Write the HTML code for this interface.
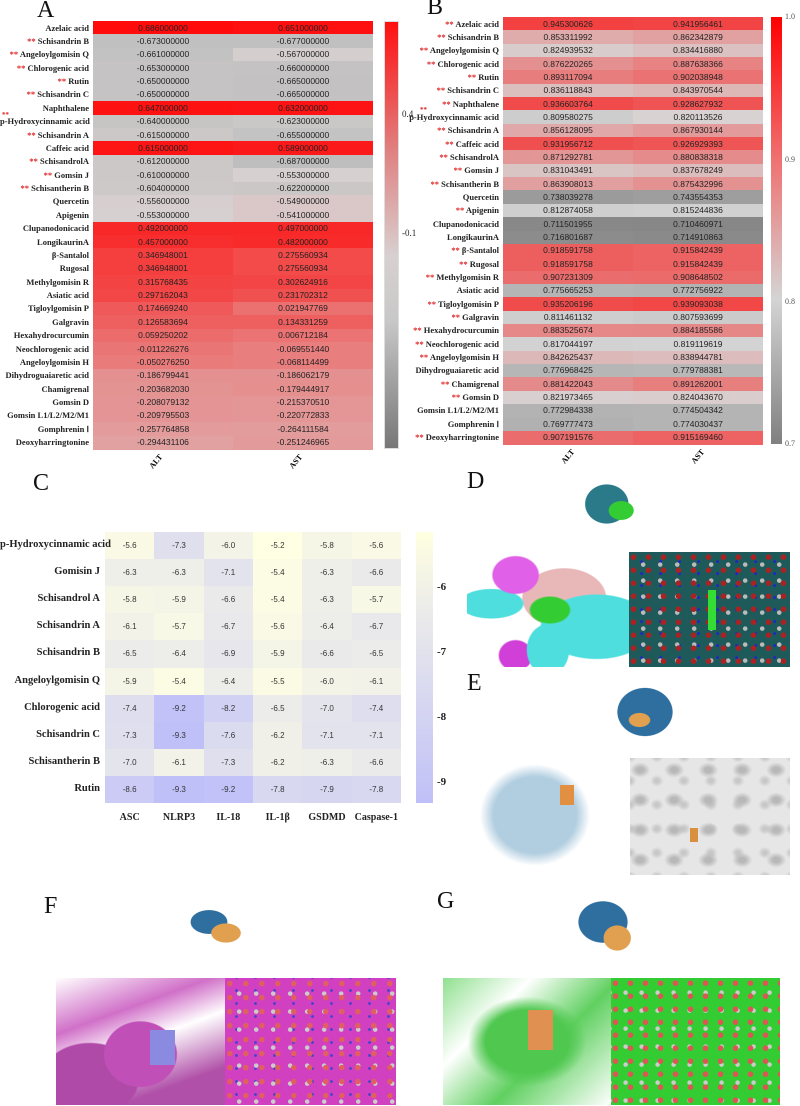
<!DOCTYPE html>
<html><head><meta charset="utf-8">
<style>
body{margin:0;background:#fff;width:800px;height:1106px;position:relative;overflow:hidden;font-family:"Liberation Sans",sans-serif}
.a{position:absolute}
.lab{position:absolute;font-family:"Liberation Serif",serif;font-weight:bold;font-size:8.5px;text-align:right;white-space:nowrap;color:#222}
.val{position:absolute;font-size:8.5px;text-align:center;color:#222;white-space:nowrap}
.big{position:absolute;font-family:"Liberation Serif",serif;font-size:24px;color:#111}
.st{color:#e02020}
.rot{position:absolute;font-family:"Liberation Serif",serif;font-weight:bold;font-size:8px;transform:rotate(-50deg);transform-origin:center}
</style></head><body>
<div class="big" style="left:37px;top:-3px">A</div>
<div class="big" style="left:427px;top:-6px">B</div>
<div class="big" style="left:33px;top:470px">C</div>
<div class="big" style="left:467px;top:468px">D</div>
<div class="big" style="left:467px;top:670px">E</div>
<div class="big" style="left:44px;top:893px">F</div>
<div class="big" style="left:437px;top:888px">G</div>
<div id="root"></div>

<!-- D -->
<div class="a" style="left:467px;top:552px;width:162px;height:115px;background:radial-gradient(ellipse at 30% 20%,#e060e8 0 14%,transparent 15%),radial-gradient(ellipse at 80% 65%,#4fdede 0 30%,transparent 31%),radial-gradient(ellipse at 15% 45%,#4fdede 0 16%,transparent 17%),radial-gradient(ellipse at 50% 85%,#4fdede 0 18%,transparent 19%),radial-gradient(ellipse at 30% 90%,#d040d8 0 10%,transparent 11%),radial-gradient(ellipse at 60% 40%,#e8b8b8 0 30%,transparent 31%),#fff"></div>
<div class="a" style="left:520px;top:590px;width:60px;height:40px;background:radial-gradient(ellipse,#3c3 0 45%,transparent 50%)"></div>
<div class="a" style="left:629px;top:552px;width:161px;height:115px;background:radial-gradient(circle at 30% 40%,#a22 0 2.5px,transparent 3px) 0 0/15px 13px,radial-gradient(circle at 60% 60%,#bbb 0 2px,transparent 2.5px) 4px 3px/17px 16px,radial-gradient(circle at 40% 80%,#22c 0 1.2px,transparent 1.6px) 5px 0/19px 12px,#1f5a5a"></div>
<div class="a" style="left:708px;top:590px;width:8px;height:40px;background:#3d3"></div>
<div class="a" style="left:578px;top:478px;width:72px;height:65px;background:radial-gradient(ellipse at 60% 50%,#3c3 0 20%,transparent 21%),radial-gradient(ellipse at 40% 40%,#2a7a8a 0 35%,transparent 36%)"></div>
<!-- E -->
<div class="a" style="left:470px;top:755px;width:130px;height:120px;background:radial-gradient(ellipse at 50% 50%,#a8c8dc 0 45%,transparent 60%);opacity:.9"></div>
<div class="a" style="left:560px;top:785px;width:14px;height:20px;background:#e09040"></div>
<div class="a" style="left:630px;top:758px;width:160px;height:117px;background:radial-gradient(ellipse at 30% 40%,#b8b8b8 0 10%,transparent 30%) 0 0/34px 30px,radial-gradient(ellipse at 70% 70%,#c8c8c8 0 8%,transparent 25%) 8px 6px/27px 24px,#e6e6e6"></div>
<div class="a" style="left:690px;top:828px;width:8px;height:14px;background:#d89040"></div>
<div class="a" style="left:590px;top:680px;width:110px;height:80px;background:radial-gradient(ellipse at 45% 50%,#e0a050 0 12%,transparent 13%),radial-gradient(ellipse at 50% 40%,#2f6fa0 0 35%,transparent 36%)"></div>
<!-- F -->
<div class="a" style="left:56px;top:978px;width:169px;height:127px;background:radial-gradient(ellipse at 50% 60%,#c050b8 0 30%,transparent 31%),radial-gradient(ellipse at 20% 80%,#b04aa8 0 25%,transparent 26%),linear-gradient(160deg,#fff 0%,#d070c8 30%,#fff 50%,#b050a8 80%)"></div>
<div class="a" style="left:150px;top:1030px;width:25px;height:35px;background:#8a8ae0"></div>
<div class="a" style="left:225px;top:978px;width:171px;height:127px;background:radial-gradient(circle at 30% 40%,#e06060 0 2.5px,transparent 3px) 0 0/16px 14px,radial-gradient(circle at 60% 70%,#ccc 0 2px,transparent 2.5px) 4px 3px/17px 18px,radial-gradient(circle at 50% 50%,#44c 0 1.2px,transparent 1.6px) 2px 6px/19px 13px,#d040c0"></div>
<div class="a" style="left:175px;top:900px;width:85px;height:55px;background:radial-gradient(ellipse at 60% 60%,#e0a050 0 20%,transparent 21%),radial-gradient(ellipse at 40% 40%,#2f6fa0 0 25%,transparent 26%)"></div>
<!-- G -->
<div class="a" style="left:443px;top:978px;width:168px;height:127px;background:radial-gradient(ellipse at 50% 50%,#50c850 0 35%,transparent 50%),linear-gradient(135deg,#8fe08f,#fff 30%,#60d060 60%,#fff)"></div>
<div class="a" style="left:528px;top:1010px;width:25px;height:40px;background:#e09050"></div>
<div class="a" style="left:611px;top:978px;width:169px;height:127px;background:radial-gradient(circle at 30% 40%,#d55 0 2.5px,transparent 3px) 0 0/15px 13px,radial-gradient(circle at 60% 70%,#ccc 0 2px,transparent 2.5px) 5px 2px/16px 18px,#33cc33"></div>
<div class="a" style="left:565px;top:890px;width:95px;height:80px;background:radial-gradient(ellipse at 55% 60%,#e0a050 0 18%,transparent 19%),radial-gradient(ellipse at 40% 40%,#2f6fa0 0 30%,transparent 31%)"></div>

<script>
const R=document.getElementById('root');
function el(cls,st,txt){const d=document.createElement('div');d.className=cls;d.style.cssText=st;if(txt!==undefined)d.innerHTML=txt;R.appendChild(d);return d;}
function mix(a,b,t){t=Math.max(0,Math.min(1,t));return 'rgb('+[0,1,2].map(i=>Math.round(a[i]+(b[i]-a[i])*t)).join(',')+')';}
const A=[["Azelaic acid",0,.686,.651],["Schisandrin B",1,-.673,-.677],["Angeloylgomisin Q",1,-.661,-.567],["Chlorogenic acid",1,-.653,-.660],["Rutin",1,-.650,-.665],["Schisandrin C",1,-.650,-.665],["Naphthalene",0,.647,.632],["p-Hydroxycinnamic acid",2,-.640,-.623],["Schisandrin A",1,-.615,-.655],["Caffeic acid",0,.615,.589],["SchisandrolA",1,-.612,-.687],["Gomsin J",1,-.610,-.553],["Schisantherin B",1,-.604,-.622],["Quercetin",0,-.556,-.549],["Apigenin",0,-.553,-.541],["Clupanodonicacid",0,.492,.497],["LongikaurinA",0,.457,.482],["β-Santalol",0,.346948001,.275560934],["Rugosal",0,.346948001,.275560934],["Methylgomisin R",0,.315768435,.302624916],["Asiatic acid",0,.297162043,.231702312],["Tigloylgomisin P",0,.174669240,.021947769],["Galgravin",0,.126583694,.134331259],["Hexahydrocurcumin",0,.059250202,.006712184],["Neochlorogenic acid",0,-.011226276,-.069551440],["Angeloylgomisin H",0,-.050276250,-.068114499],["Dihydroguaiaretic acid",0,-.186799441,-.186062179],["Chamigrenal",0,-.203682030,-.179444917],["Gomsin D",0,-.208079132,-.215370510],["Gomsin L1/L2/M2/M1",0,-.209795503,-.220772833],["Gomphrenin Ⅰ",0,-.257764858,-.264111584],["Deoxyharringtonine",0,-.294431106,-.251246965]];
function cA(v){if(v<=-.55)return mix([190,190,190],[216,208,208],(v+.69)/.14);return mix([218,200,200],[255,10,10],(v+.55)/1.24);}
const ay0=21,ah=(449-21)/32;
A.forEach((r,i)=>{const y=ay0+i*ah;
 [r[2],r[3]].forEach((v,j)=>{const x=j?233:93;el('a',`left:${x}px;top:${y}px;width:140px;height:${ah+0.5}px;background:${cA(v)}`);
  el('val',`left:${x}px;top:${y+1.5}px;width:140px`,v.toFixed(9));});
 let s=r[1]==1?'<span class="st">** </span>':'';
 if(r[1]==2){el('lab','left:2px;top:'+(y-4)+'px;width:10px;text-align:left;font-size:7px','<span class="st">**</span>');}
 el('lab',`left:0;top:${y+1.5}px;width:89px`,s+r[0]);
});
el('a','left:384px;top:21px;width:13px;height:426px;background:linear-gradient(#ff1010,#e08080 30%,#d8d0d0 55%,#c8c8c8 70%,#777);border:0.5px solid #ddd');
el('lab','left:402px;top:109px;width:14px;font-weight:normal;font-size:9px;text-align:left','0.4');
el('lab','left:402px;top:228px;width:18px;font-weight:normal;font-size:9px;text-align:left','-0.1');
el('rot','left:148px;top:457px','ALT');el('rot','left:288px;top:457px','AST');
const B=[["Azelaic acid",1,.945300626,.941956461],["Schisandrin B",1,.853311992,.862342879],["Angeloylgomisin Q",1,.824939532,.834416880],["Chlorogenic acid",1,.876220265,.887638366],["Rutin",1,.893117094,.902038948],["Schisandrin C",1,.836118843,.843970544],["Naphthalene",1,.936603764,.928627932],["p-Hydroxycinnamic acid",2,.809580275,.820113526],["Schisandrin A",1,.856128095,.867930144],["Caffeic acid",1,.931956712,.926929393],["SchisandrolA",1,.871292781,.880838318],["Gomsin J",1,.831043491,.837678249],["Schisantherin B",1,.863908013,.875432996],["Quercetin",0,.738039278,.743554353],["Apigenin",1,.812874058,.815244836],["Clupanodonicacid",0,.711501955,.710460971],["LongikaurinA",0,.716801687,.714910863],["β-Santalol",1,.918591758,.915842439],["Rugosal",1,.918591758,.915842439],["Methylgomisin R",1,.907231309,.908648502],["Asiatic acid",0,.775665253,.772756922],["Tigloylgomisin P",1,.935206196,.939093038],["Galgravin",1,.811461132,.807593699],["Hexahydrocurcumin",1,.883525674,.884185586],["Neochlorogenic acid",1,.817044197,.819119619],["Angeloylgomisin H",1,.842625437,.838944781],["Dihydroguaiaretic acid",0,.776968425,.779788381],["Chamigrenal",1,.881422043,.891262001],["Gomsin D",1,.821973465,.824043670],["Gomsin L1/L2/M2/M1",0,.772984338,.774504342],["Gomphrenin Ⅰ",0,.769777473,.774030437],["Deoxyharringtonine",1,.907191576,.915169460]];
function cB(v){if(v<=.82)return mix([128,128,128],[212,212,212],(v-.7)/.12);return mix([216,210,210],[255,0,0],(v-.82)/.18);}
const by0=17,bh=(444-17)/32;
B.forEach((r,i)=>{const y=by0+i*bh;
 [r[2],r[3]].forEach((v,j)=>{const x=j?633:503;el('a',`left:${x}px;top:${y}px;width:130px;height:${bh+0.5}px;background:${cB(v)}`);
  el('val',`left:${x}px;top:${y+1.5}px;width:130px`,v.toFixed(9));});
 let s=r[1]==1?'<span class="st">** </span>':'';
 if(r[1]==2)el('lab','left:420px;top:'+(y-4)+'px;width:10px;text-align:left;font-size:7px','<span class="st">**</span>');
 el('lab',`left:400px;top:${y+1.5}px;width:99px`,s+r[0]);
});
el('a','left:771px;top:17px;width:11px;height:427px;background:linear-gradient(#ff0000,#f07070 33%,#d4d4d4 66%,#808080)');
[['1.0',12],['0.9',155],['0.8',297],['0.7',439]].forEach(t=>el('lab',`left:785px;top:${t[1]}px;width:14px;font-weight:normal;font-size:8px;text-align:left;color:#555`,t[0]));
el('rot','left:560px;top:452px','ALT');el('rot','left:690px;top:452px','AST');
const C=[["p-Hydroxycinnamic acid",[-5.6,-7.3,-6.0,-5.2,-5.8,-5.6]],["Gomisin J",[-6.3,-6.3,-7.1,-5.4,-6.3,-6.6]],["Schisandrol A",[-5.8,-5.9,-6.6,-5.4,-6.3,-5.7]],["Schisandrin A",[-6.1,-5.7,-6.7,-5.6,-6.4,-6.7]],["Schisandrin B",[-6.5,-6.4,-6.9,-5.9,-6.6,-6.5]],["Angeloylgomisin Q",[-5.9,-5.4,-6.4,-5.5,-6.0,-6.1]],["Chlorogenic acid",[-7.4,-9.2,-8.2,-6.5,-7.0,-7.4]],["Schisandrin C",[-7.3,-9.3,-7.6,-6.2,-7.1,-7.1]],["Schisantherin B",[-7.0,-6.1,-7.3,-6.2,-6.3,-6.6]],["Rutin",[-8.6,-9.3,-9.2,-7.8,-7.9,-7.8]]];
function cC(v){if(v>=-6.5)return mix([236,236,234],[255,255,228],(v+6.5)/1.3);return mix([192,192,248],[236,236,234],(v+9.3)/2.8);}
const cy0=532,ch=(803-532)/10,cw=(401-105)/6;
C.forEach((r,i)=>{const y=cy0+i*ch;
 r[1].forEach((v,j)=>{const x=105+j*cw;el('a',`left:${x}px;top:${y}px;width:${cw+0.5}px;height:${ch+0.5}px;background:${cC(v)}`);
  el('val',`left:${x}px;top:${y+9}px;width:${cw}px;font-size:8px;color:#333`,v.toFixed(1));});
 el('lab',`left:0;top:${y+7}px;width:100px;font-size:10.5px`,r[0]);
});
["ASC","NLRP3","IL-18","IL-1β","GSDMD","Caspase-1"].forEach((t,j)=>el('lab',`left:${105+j*cw}px;top:812px;width:${cw}px;text-align:center;font-size:10px`,t));
el('a','left:416px;top:532px;width:17px;height:271px;background:linear-gradient(#ffffe0,#ececea 28%,#c0c0f8)');
[['-6',581],['-7',646],['-8',711],['-9',776]].forEach(t=>el('lab',`left:437px;top:${t[1]}px;width:14px;font-size:11px;text-align:left`,t[0]));
</script>
</body></html>
